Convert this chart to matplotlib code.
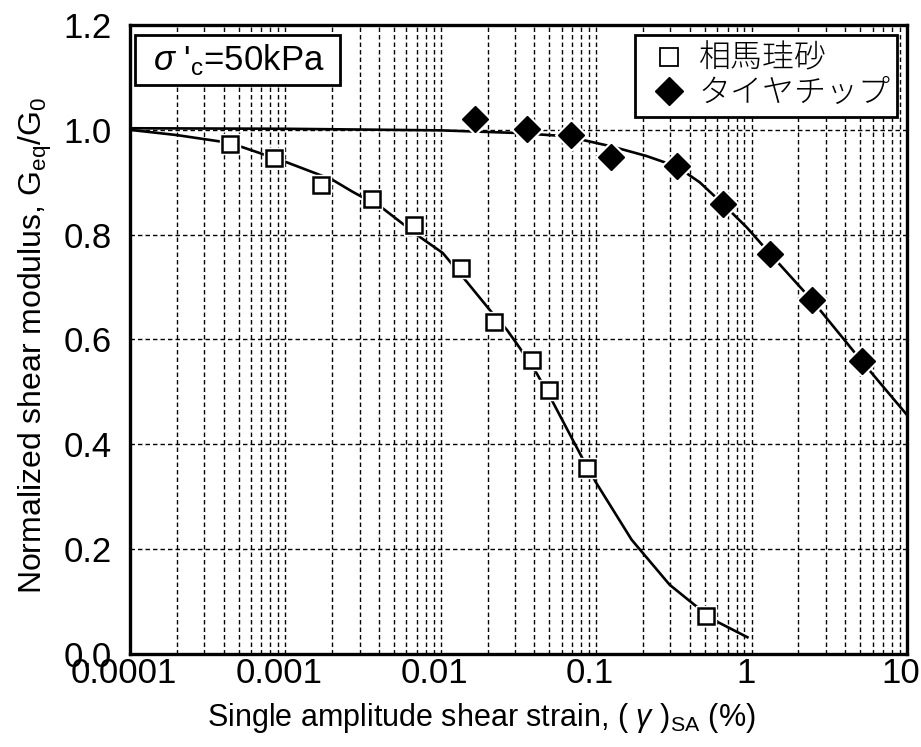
import matplotlib
matplotlib.use("Agg")
import matplotlib.pyplot as plt
import matplotlib.transforms as mtransforms
from matplotlib.lines import Line2D
from matplotlib.patches import Rectangle
from matplotlib.ticker import FixedLocator, LogLocator, NullFormatter

plt.rcParams['font.family'] = ['Liberation Sans', 'DejaVu Sans']
plt.rcParams['mathtext.fontset'] = 'custom'
plt.rcParams['mathtext.rm'] = 'Liberation Sans'
plt.rcParams['mathtext.it'] = 'Liberation Sans:italic'

# Measured points: Soma silica sand
sand_strain = [0.00044, 0.00085, 0.0017, 0.0036, 0.0067, 0.0135, 0.022, 0.0385, 0.050, 0.087, 0.51]
sand_ratio = [0.973, 0.947, 0.895, 0.868, 0.819, 0.737, 0.634, 0.561, 0.504, 0.355, 0.073]

# Fitted curve: Soma silica sand
sand_fit_strain = [0.0001, 0.0002, 0.00044, 0.001, 0.002, 0.0027, 0.0042, 0.0073, 0.0103, 0.0147,
                   0.0207, 0.0267, 0.0322, 0.0413, 0.0525, 0.0807, 0.0993, 0.169, 0.297, 0.43, 0.605, 0.94]
sand_fit_ratio = [1.0, 0.99, 0.975, 0.939, 0.905, 0.882, 0.851, 0.796, 0.765, 0.71,
                  0.656, 0.618, 0.584, 0.536, 0.481, 0.376, 0.328, 0.218, 0.132, 0.0935, 0.061, 0.032]

# Measured points: tire chips
tire_strain = [0.0166, 0.0357, 0.0686, 0.124, 0.33, 0.652, 1.32, 2.43, 5.1]
tire_ratio = [1.021, 1.002, 0.990, 0.948, 0.931, 0.859, 0.763, 0.676, 0.559]

# Fitted curve: tire chips
tire_fit_strain = [0.0001, 0.001, 0.01, 0.031, 0.056, 0.081, 0.127, 0.211, 0.33, 0.463,
                   0.652, 0.93, 1.32, 2.43, 5.1, 10.0]
tire_fit_ratio = [1.003, 1.002, 0.999, 0.994, 0.989, 0.981, 0.968, 0.950, 0.930, 0.900,
                  0.859, 0.814, 0.763, 0.676, 0.559, 0.456]

x_ticks = [0.0001, 0.001, 0.01, 0.1, 1, 10]
x_tick_labels = ['0.0001', '0.001', '0.01', '0.1', '1', '10']
y_ticks = [0.0, 0.2, 0.4, 0.6, 0.8, 1.0, 1.2]
y_tick_labels = ['0.0', '0.2', '0.4', '0.6', '0.8', '1.0', '1.2']

legend_labels = ['相馬珪砂', 'タイヤチップ']

W, H = 921, 747
fig = plt.figure(figsize=(W / 100, H / 100), dpi=100)
L, R, T, B = 130, 907, 25, 654
ax = fig.add_axes([L / W, 1 - B / H, (R - L) / W, (B - T) / H])

ax.set_xscale('log')
ax.set_xlim(1e-4, 10)
ax.set_ylim(0, 1.2)

# dashed grid on every decade subdivision
grid_kw = dict(color='black', linewidth=1.0, linestyle=(0, (3.2, 2.2)), zorder=1)
ax.xaxis.set_major_locator(FixedLocator(x_ticks))
ax.xaxis.set_minor_locator(LogLocator(base=10, subs=range(2, 10), numticks=20))
ax.xaxis.set_minor_formatter(NullFormatter())
ax.set_xticks(x_ticks)
ax.set_xticklabels(x_tick_labels)
ax.set_yticks(y_ticks)
ax.set_yticklabels(y_tick_labels)
ax.grid(True, which='major', axis='both', **grid_kw)
ax.grid(True, which='minor', axis='x', **grid_kw)
ax.set_axisbelow(True)

ax.tick_params(axis='both', which='both', length=0, labelsize=25)
ax.tick_params(axis='x', pad=2)
ax.tick_params(axis='y', pad=13)

# x tick labels sit slightly left of their gridlines
shift = mtransforms.ScaledTranslation(-6 / 100, 0, fig.dpi_scale_trans)
for lab in ax.get_xticklabels():
    lab.set_transform(lab.get_transform() + shift)

for s in ax.spines.values():
    s.set_linewidth(2.4)
    s.set_zorder(6)

# fitted curves
ax.plot(sand_fit_strain, sand_fit_ratio, color='black', linewidth=1.9, zorder=2)
ax.plot(tire_fit_strain, tire_fit_ratio, color='black', linewidth=1.9, zorder=2)

# white halos so the curves stop short of the symbols
ax.plot(sand_strain, sand_ratio, linestyle='none', marker='s', markersize=15,
        markerfacecolor='white', markeredgecolor='white', zorder=3)
ax.plot(tire_strain, tire_ratio, linestyle='none', marker='D', markersize=16,
        markerfacecolor='white', markeredgecolor='white', zorder=3)

ax.plot(sand_strain, sand_ratio, linestyle='none', marker='s', markersize=11.5,
        markerfacecolor='white', markeredgecolor='black', markeredgewidth=1.8, zorder=4)
ax.plot(tire_strain, tire_ratio, linestyle='none', marker='D', markersize=13,
        markerfacecolor='black', markeredgecolor='black', zorder=4)

# confining pressure box
def px_to_axes(px, py):
    return (px - L) / (R - L), (B - py) / (B - T)

bx0, by0 = px_to_axes(135, 85)
bx1, by1 = px_to_axes(340, 35)
ax.add_patch(Rectangle((bx0, by0), bx1 - bx0, by1 - by0, transform=ax.transAxes,
                       facecolor='white', edgecolor='black', linewidth=2.0, zorder=5))
tx, ty = px_to_axes(239, 60)
ax.text(tx, ty, "$\\sigma$ '$_{\\rm c}$=50kPa", transform=ax.transAxes, fontsize=25,
        ha='center', va='center', zorder=7)

# legend
handles = [
    Line2D([], [], linestyle='none', marker='s', markersize=13,
           markerfacecolor='white', markeredgecolor='black', markeredgewidth=1.3),
    Line2D([], [], linestyle='none', marker='D', markersize=14,
           markerfacecolor='black', markeredgecolor='black'),
]
lx, ly = px_to_axes(897, 35)
leg = ax.legend(handles, legend_labels, loc='upper right', bbox_to_anchor=(lx, ly),
                borderaxespad=0, frameon=True, fancybox=False, framealpha=1,
                prop={'family': ['Noto Sans CJK JP', 'DejaVu Sans'], 'size': 23, 'weight': 'light'},
                handlelength=1.75, handletextpad=0.05, borderpad=0.2, labelspacing=0.0)
leg.get_frame().set_edgecolor('black')
leg.get_frame().set_linewidth(2.0)
leg.set_zorder(7)

fig.text(481 / W, 1 - 718 / H, "Single amplitude shear strain, ( $\\mathit{\\gamma}$ )$_{\\rm SA}$ (%)",
         fontsize=22, ha='center', va='center',
         family=['Liberation Sans Narrow', 'Liberation Sans', 'DejaVu Sans'])
fig.text(35 / W, 1 - 345 / H, "Normalized shear modulus, G$_{\\rm eq}$/G$_{\\rm 0}$",
         fontsize=23, ha='center', va='center', rotation=90)

fig.savefig('out.png', dpi=100)
